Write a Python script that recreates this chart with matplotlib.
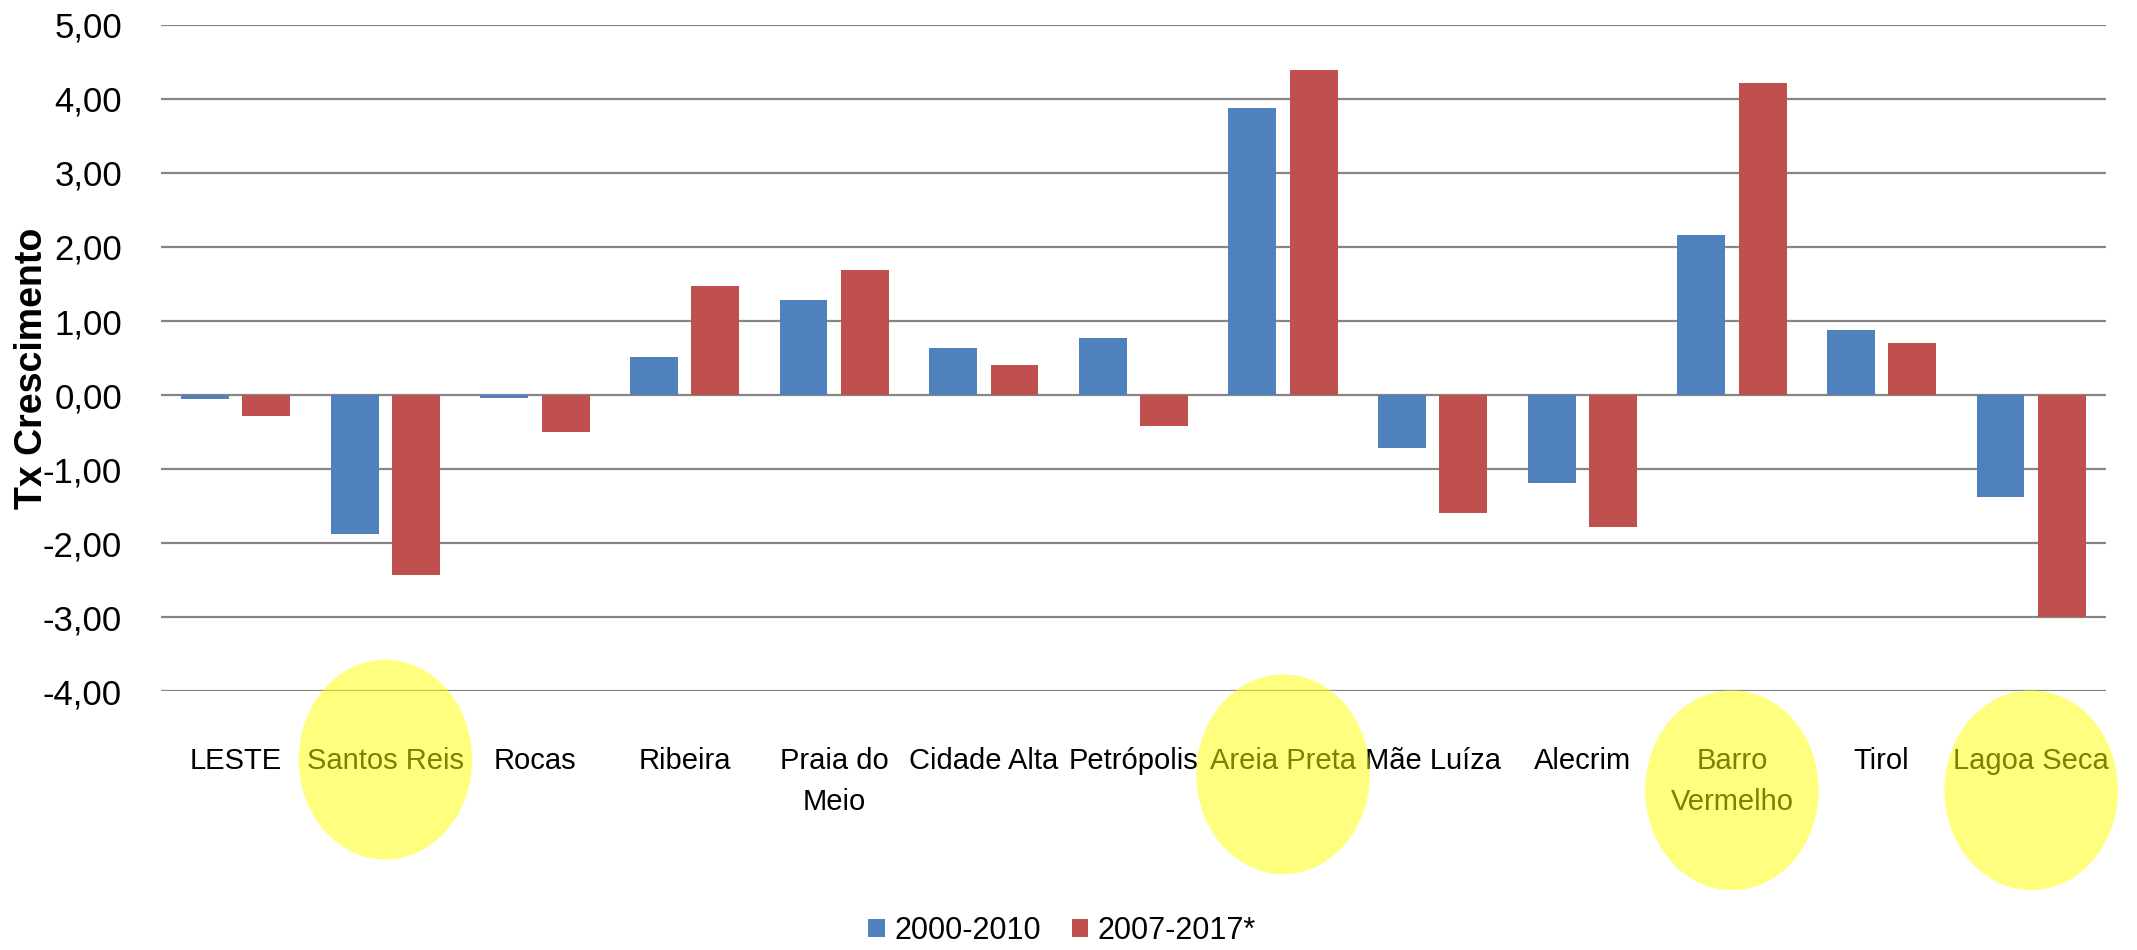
import matplotlib
matplotlib.use("Agg")
import numpy as np
import matplotlib.pyplot as plt
from matplotlib.patches import Ellipse
import matplotlib.transforms as mtransforms

# dados
bairros = ['LESTE', 'Santos Reis', 'Rocas', 'Ribeira', 'Praia do\nMeio', 'Cidade Alta',
           'Petrópolis', 'Areia Preta', 'Mãe Luíza', 'Alecrim', 'Barro\nVermelho',
           'Tirol', 'Lagoa Seca']
tx_2000_2010 = [-0.05, -1.88, -0.04, 0.52, 1.29, 0.63, 0.77, 3.88, -0.72, -1.19, 2.16, 0.88, -1.38]
tx_2007_2017 = [-0.28, -2.43, -0.50, 1.47, 1.69, 0.41, -0.42, 4.39, -1.59, -1.79, 4.21, 0.70, -3.00]
series = ['2000-2010', '2007-2017*']
yticks = [-4, -3, -2, -1, 0, 1, 2, 3, 4, 5]
ytick_labels = [f"{v:.2f}".replace('.', ',') for v in yticks]
destaques = ['Santos Reis', 'Areia Preta', 'Barro\nVermelho', 'Lagoa Seca']

plt.rcParams['font.family'] = ['Liberation Sans', 'DejaVu Sans']

azul = '#4F81BD'
vermelho = '#C0504D'

fig = plt.figure(figsize=(21.37, 9.5), dpi=100)
ax = fig.add_axes([0.0753, 0.2726, 0.9102, 0.7011])

x = np.arange(len(bairros))
larg = 0.32
ax.bar(x - 0.205, tx_2000_2010, larg, color=azul, label=series[0], zorder=3)
ax.bar(x + 0.205, tx_2007_2017, larg, color=vermelho, label=series[1], zorder=3)

ax.set_xlim(-0.5, len(bairros) - 0.5)
ax.set_ylim(-4, 5)
ax.set_yticks(yticks)
ax.set_yticklabels(ytick_labels, fontsize=25)
ax.set_xticks(x)
ax.set_xticklabels(bairros, fontsize=21, va='top', linespacing=1.6)
ax.tick_params(axis='y', length=0, pad=28)
ax.tick_params(axis='x', length=0, pad=40)
ax.grid(axis='y', color='#868686', linewidth=1.6, zorder=0)
for s in ax.spines.values():
    s.set_visible(False)

ax.set_ylabel('Tx Crescimento', fontsize=27, fontweight='bold')
ax.yaxis.set_label_coords(-0.057, 0.485)

# elipses amarelas sobre os bairros destacados
trans = mtransforms.blended_transform_factory(ax.transData, ax.transAxes)
centros_y = {'Santos Reis': -0.103, 'Areia Preta': -0.125,
             'Barro\nVermelho': -0.149, 'Lagoa Seca': -0.149}
for nome in destaques:
    i = bairros.index(nome)
    e = Ellipse((i, centros_y[nome]), 1.16, 0.30, transform=trans,
                facecolor='#FFFF00', alpha=0.5, edgecolor='none',
                clip_on=False, zorder=10)
    ax.add_artist(e)

leg = fig.legend(loc='center', bbox_to_anchor=(0.497, 0.02), ncol=2,
                 frameon=False, fontsize=22, handlelength=0.55, handleheight=0.55,
                 handletextpad=0.3, columnspacing=1.0)

fig.savefig('out.png', dpi=100, facecolor='white')
